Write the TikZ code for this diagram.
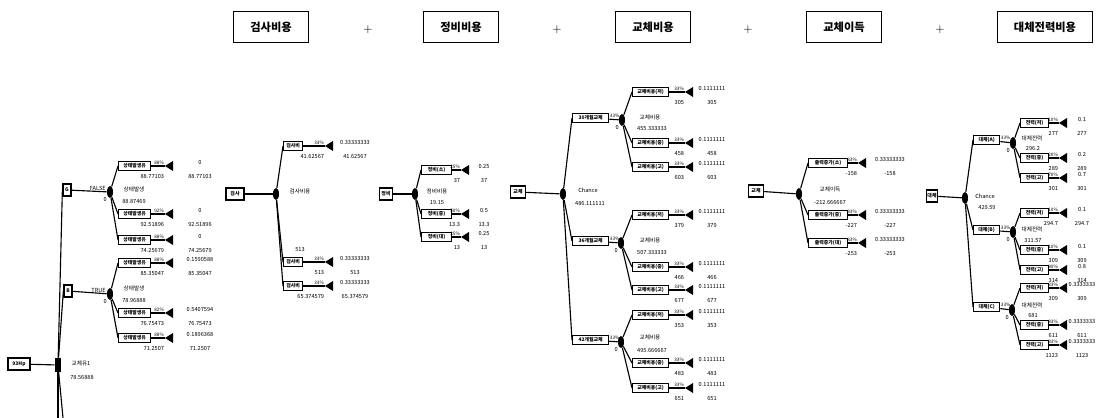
\documentclass[tikz,border=0pt]{standalone}
\usepackage{fontspec}
\newfontfamily\kr{Noto Sans CJK KR}
\usepackage{tikz}
\usetikzlibrary{shapes.geometric, positioning, calc}

\tikzset{
    % cost headings on top
    cost box/.style={
        rectangle,
        draw=black,
        line width=0.6pt,
        minimum width=1.875cm,
        minimum height=0.775cm,
        inner sep=1pt,
        font=\kr\bfseries\fontsize{8}{9}\selectfont
    },
    plus sign/.style={
        inner sep=0pt,
        font=\fontsize{8}{9}\selectfont
    },
    % tree parts
    root box/.style={
        rectangle,
        draw=black,
        line width=0.9pt,
        minimum height=0.3cm,
        inner sep=0.5pt,
        font=\kr\bfseries\fontsize{3.5}{4}\selectfont
    },
    leaf box/.style={
        rectangle,
        draw=black,
        line width=0.9pt,
        minimum height=0.22cm,
        inner sep=0.4pt,
        font=\kr\bfseries\fontsize{3.5}{4}\selectfont
    },
    chance/.style={
        ellipse,
        fill=black,
        minimum width=0.15cm,
        minimum height=0.3cm,
        inner sep=0pt
    },
    decision/.style={
        rectangle,
        fill=black,
        minimum width=0.15cm,
        minimum height=0.35cm,
        inner sep=0pt
    },
    branch/.style={line width=0.8pt},
    end tip/.style={fill=black},
    tiny label/.style={
        inner sep=0.5pt,
        font=\kr\fontsize{4}{4.5}\selectfont
    },
    pct label/.style={
        inner sep=0.3pt,
        font=\kr\fontsize{3.3}{4}\selectfont
    }
}

% terminal branch: name, y, box text, percent, value under box, probability, value
\newcommand{\leafnode}[7]{%
    \node[leaf box, minimum width=\lbw, anchor=west] (#1) at (\lbx,#2) {#3};
    \coordinate (#1t) at (\ltx,#2);
    \draw[branch] (#1) -- (#1t);
    \fill[end tip] (#1t) -- ++(8,-5) -- ++(0,10) -- cycle;
    \node[pct label, anchor=south east] (#1p) at (\ltx-0.5,#2-0.5) {#4};
    \node[tiny label, anchor=east] (#1u) at (\ltx,#2+10) {#5};
    \node[tiny label] (#1a) at (\lvx,#2-4) {#6};
    \node[tiny label] (#1b) at (\lvx,#2+10) {#7};
}

\begin{document}
\begin{tikzpicture}[x=0.025cm, y=-0.025cm]
    \useasboundingbox (0,0) rectangle (1098,418);

    % headings
    \node[cost box] (k1) at (271,27) {검사비용};
    \node[plus sign] (p1) at (368,30) {+};
    \node[cost box] (k2) at (461,27) {정비비용};
    \node[plus sign] (p2) at (557,30) {+};
    \node[cost box] (k3) at (653,27) {교체비용};
    \node[plus sign] (p3) at (748,30) {+};
    \node[cost box] (k4) at (844,27) {교체이득};
    \node[plus sign] (p4) at (940,30) {+};
    \node[cost box, minimum width=2.375cm] (k5) at (1045,27) {대체전력비용};

    % 93Hp tree
    \node[root box, minimum width=0.55cm] (hp) at (19,364) {93Hp};
    \node[decision] (dn) at (58,365) {};
    \node[tiny label] (dnl) at (81,363) {교체유1};
    \node[tiny label] (dnv) at (82,377) {78.56888};
    \coordinate (dd1) at (58,418);
    \coordinate (dd2) at (63,418);
    \node[root box, minimum width=0.2cm] (gb) at (67,190) {G};
    \node[root box, minimum width=0.2cm] (bb) at (68,291) {B};
    \node[chance] (c1) at (110,192) {};
    \node[chance] (c2) at (110,294) {};
    \draw[branch] (hp) -- (dn);
    \draw[branch] (dn) -- (gb.west);
    \draw[branch] (dn) -- (bb.west);
    \draw[branch] (dn) -- (dd1);
    \draw[branch] (dn) -- (dd2);
    \draw[branch] (gb) -- (c1);
    \draw[branch] (bb) -- (c2);
    \node[tiny label, anchor=south east] (c1f) at (c1.west) {FALSE};
    \node[tiny label, anchor=south east] (c2f) at (c2.west) {TRUE};
    \node[tiny label, anchor=north east] (c1z) at (c1.south west) {0};
    \node[tiny label, anchor=north east] (c2z) at (c2.south west) {0};
    \node[tiny label] (c1l) at (134,189) {상태발생};
    \node[tiny label] (c1v) at (134,201) {88.87469};
    \node[tiny label] (c2l) at (134,288) {상태발생};
    \node[tiny label] (c2v) at (134,300) {78.96888};
    \def\lbx{118}\def\ltx{165}\def\lvx{200}\def\lbw{0.8cm}
    \leafnode{a1}{166}{상태발생유}{88\%}{88.77103}{0}{88.77103}
    \leafnode{a2}{214}{상태발생유}{92\%}{92.51896}{0}{92.51896}
    \leafnode{a3}{240}{상태발생유}{88\%}{74.25679}{0}{74.25679}
    \leafnode{a4}{263}{상태발생유}{88\%}{85.35047}{0.1590588}{85.35047}
    \leafnode{a5}{313}{상태발생유}{82\%}{76.75473}{0.5407594}{76.75473}
    \leafnode{a6}{338}{상태발생유}{88\%}{71.2507}{0.1896368}{71.2507}
    \foreach \n in {a1,a2,a3} \draw[branch] (c1) -- (\n.west);
    \foreach \n in {a4,a5,a6} \draw[branch] (c2) -- (\n.west);

    % 검사비용 tree
    \node[root box, minimum width=0.45cm] (r2) at (235,194) {검사};
    \node[chance] (c3) at (276,194) {};
    \draw[branch] (r2) -- (c3);
    \node[tiny label] (c3l) at (300,191) {검사비용};
    \node[tiny label] (c3x) at (300,249) {513};
    \def\lbx{283}\def\ltx{325}\def\lvx{355}\def\lbw{0.475cm}
    \leafnode{b1}{146}{검사비}{33\%}{41.62567}{0.33333333}{41.62567}
    \leafnode{b2}{262}{검사비}{33\%}{513}{0.33333333}{513}
    \leafnode{b3}{286}{검사비}{33\%}{65.374579}{0.33333333}{65.374579}
    \foreach \n in {b1,b2,b3} \draw[branch] (c3) -- (\n.west);

    % 정비비용 tree
    \node[root box, minimum width=0.33cm] (r3) at (386,194) {정비};
    \node[chance] (c4) at (415,194) {};
    \draw[branch] (r3) -- (c4);
    \node[tiny label] (c4l) at (437,191) {정비비용};
    \node[tiny label] (c4v) at (437,202) {19.15};
    \def\lbx{421}\def\ltx{461}\def\lvx{484}\def\lbw{0.75cm}
    \leafnode{e1}{170}{정비(소)}{25\%}{37}{0.25}{37}
    \leafnode{e2}{214}{정비(중)}{50\%}{13.3}{0.5}{13.3}
    \leafnode{e3}{237}{정비(대)}{25\%}{13}{0.25}{13}
    \foreach \n in {e1,e2,e3} \draw[branch] (c4) -- (\n.west);

    % 교체비용 tree
    \node[root box, minimum width=0.38cm] (r4) at (518,192) {교체};
    \node[chance] (c5) at (563,194) {};
    \draw[branch] (r4) -- (c5);
    \node[tiny label] (c5l) at (588,190) {Chance};
    \node[tiny label] (c5v) at (590,203) {486.111111};
    \node[leaf box, minimum width=0.9cm, anchor=west] (s1) at (572,118) {30개월교체};
    \node[leaf box, minimum width=0.9cm, anchor=west] (s2) at (572,241) {36개월교체};
    \node[leaf box, minimum width=0.9cm, anchor=west] (s3) at (572,340) {42개월교체};
    \node[chance] (s1c) at (622,120) {};
    \node[chance] (s2c) at (621,243) {};
    \node[chance] (s3c) at (621,342) {};
    \foreach \n in {s1,s2,s3} {
        \draw[branch] (c5) -- (\n.west);
        \draw[branch] (\n) -- (\n c);
        \node[pct label, anchor=south west] (\n p) at (\n.east) {33\%};
        \node[tiny label, anchor=north east] (\n z) at (\n c.south west) {0};
    }
    \node[tiny label] (s1l) at (650,117) {교체비용};
    \node[tiny label] (s1v) at (652,128) {455.333333};
    \node[tiny label] (s2l) at (650,240) {교체비용};
    \node[tiny label] (s2v) at (652,252) {507.333333};
    \node[tiny label] (s3l) at (650,337) {교체비용};
    \node[tiny label] (s3v) at (652,350) {495.666667};
    \def\lbx{632}\def\ltx{685}\def\lvx{712}\def\lbw{0.9cm}
    \leafnode{f1}{92}{교체비용(저)}{33\%}{305}{0.1111111}{305}
    \leafnode{f2}{143}{교체비용(중)}{33\%}{458}{0.1111111}{458}
    \leafnode{f3}{167}{교체비용(고)}{33\%}{603}{0.1111111}{603}
    \leafnode{f4}{215}{교체비용(저)}{33\%}{379}{0.1111111}{379}
    \leafnode{f5}{267}{교체비용(중)}{33\%}{466}{0.1111111}{466}
    \leafnode{f6}{290}{교체비용(고)}{33\%}{677}{0.1111111}{677}
    \leafnode{f7}{315}{교체비용(저)}{33\%}{353}{0.1111111}{353}
    \leafnode{f8}{363}{교체비용(중)}{33\%}{483}{0.1111111}{483}
    \leafnode{f9}{388}{교체비용(고)}{33\%}{651}{0.1111111}{651}
    \foreach \n in {f1,f2,f3} \draw[branch] (s1c) -- (\n.west);
    \foreach \n in {f4,f5,f6} \draw[branch] (s2c) -- (\n.west);
    \foreach \n in {f7,f8,f9} \draw[branch] (s3c) -- (\n.west);

    % 교체이득 tree
    \node[root box, minimum width=0.38cm] (r5) at (756,191) {교체};
    \node[chance] (c6) at (799,194) {};
    \draw[branch] (r5) -- (c6);
    \node[tiny label] (c6l) at (830,189) {교체이득};
    \node[tiny label] (c6v) at (830,202) {-212.666667};
    \def\lbx{808}\def\ltx{858}\def\lvx{890}\def\lbw{0.975cm}
    \leafnode{g1}{163}{출력증가(소)}{33\%}{-158}{0.33333333}{-158}
    \leafnode{g2}{215}{출력증가(중)}{33\%}{-227}{0.33333333}{-227}
    \leafnode{g3}{243}{출력증가(대)}{33\%}{-253}{0.33333333}{-253}
    \foreach \n in {g1,g2,g3} \draw[branch] (c6) -- (\n.west);

    % 대체전력비용 tree
    \node[root box, minimum width=0.28cm] (r6) at (932,196) {대체};
    \node[chance] (c7) at (965,198) {};
    \draw[branch] (r6) -- (c7);
    \node[tiny label] (c7l) at (985,196) {Chance};
    \node[tiny label] (c7v) at (987,207) {429.59};
    \node[leaf box, minimum width=0.65cm, anchor=west] (t1) at (973,140) {대체(A)};
    \node[leaf box, minimum width=0.65cm, anchor=west] (t2) at (973,230) {대체(B)};
    \node[leaf box, minimum width=0.65cm, anchor=west] (t3) at (973,307) {대체(C)};
    \node[chance] (t1c) at (1013,143) {};
    \node[chance] (t2c) at (1013,232) {};
    \node[chance] (t3c) at (1012,310) {};
    \foreach \n in {t1,t2,t3} {
        \draw[branch] (c7) -- (\n.west);
        \draw[branch] (\n) -- (\n c);
        \node[pct label, anchor=south west] (\n p) at (\n.east) {33\%};
        \node[tiny label, anchor=north east] (\n z) at (\n c.south west) {0};
    }
    \node[tiny label] (t1l) at (1032,138) {대체전력};
    \node[tiny label] (t1v) at (1033,148) {296.2};
    \node[tiny label] (t2l) at (1032,229) {대체전력};
    \node[tiny label] (t2v) at (1033,240) {311.57};
    \node[tiny label] (t3l) at (1032,305) {대체전력};
    \node[tiny label] (t3v) at (1033,315) {681};
    \def\lbx{1020}\def\ltx{1059}\def\lvx{1082}\def\lbw{0.7cm}
    \leafnode{h1}{123}{전력(저)}{10\%}{277}{0.1}{277}
    \leafnode{h2}{158}{전력(중)}{20\%}{289}{0.2}{289}
    \leafnode{h3}{178}{전력(고)}{70\%}{301}{0.7}{301}
    \leafnode{h4}{213}{전력(저)}{10\%}{294.7}{0.1}{294.7}
    \leafnode{h5}{250}{전력(중)}{10\%}{309}{0.1}{309}
    \leafnode{h6}{270}{전력(고)}{80\%}{314}{0.8}{314}
    \leafnode{h7}{288}{전력(저)}{33\%}{309}{0.3333333}{309}
    \leafnode{h8}{325}{전력(중)}{33\%}{611}{0.3333333}{611}
    \leafnode{h9}{345}{전력(고)}{33\%}{1123}{0.3333333}{1123}
    \foreach \n in {h1,h2,h3} \draw[branch] (t1c) -- (\n.west);
    \foreach \n in {h4,h5,h6} \draw[branch] (t2c) -- (\n.west);
    \foreach \n in {h7,h8,h9} \draw[branch] (t3c) -- (\n.west);
\end{tikzpicture}
\end{document}
